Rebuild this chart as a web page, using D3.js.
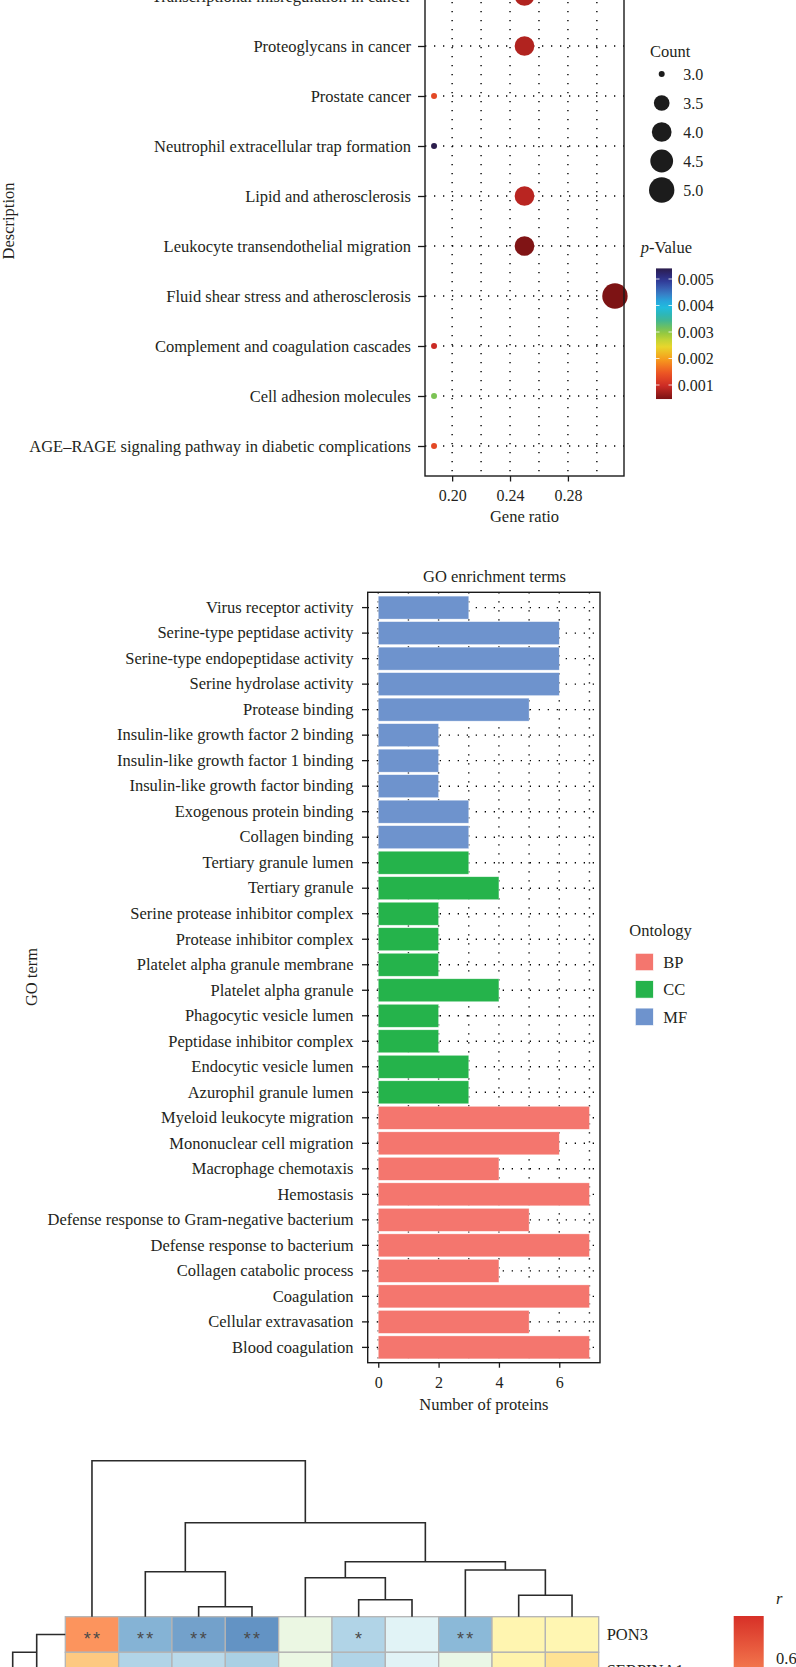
<!DOCTYPE html>
<meta charset="utf-8">
<title>KEGG dot plot, GO enrichment terms and correlation heatmap</title>
<style>
  body { margin: 0; background: #fff; }
  svg { display: block; }
  svg text { font-family: 'Liberation Serif', 'Times New Roman', serif; fill: #231f20; }
  .grid line { stroke: #000; stroke-width: 1.4; stroke-dasharray: 1.3, 7.7; }
  .frame { fill: none; stroke: #1a1a1a; stroke-width: 1.4; }
  .axis path { display: none; }
  .axis line { stroke: #1a1a1a; stroke-width: 1.3; }
  .tree { fill: none; stroke: #2b2b2b; stroke-width: 1.6; }
  .cell { stroke: #b4b4b4; stroke-width: 1.3; }
  .star { font-family: 'Liberation Sans', Arial, sans-serif; fill: #4a4a4a; }
</style>
<svg width="796" height="1667"></svg>
<script src="https://cdn.jsdelivr.net/npm/d3@7"></script>
<script>

// ---- KEGG dot plot data (top of the figure is cropped)
var keggTerms = [
  "Transcriptional misregulation in cancer",
  "Proteoglycans in cancer",
  "Prostate cancer",
  "Neutrophil extracellular trap formation",
  "Lipid and atherosclerosis",
  "Leukocyte transendothelial migration",
  "Fluid shear stress and atherosclerosis",
  "Complement and coagulation cascades",
  "Cell adhesion molecules",
  "AGE\u2013RAGE signaling pathway in diabetic complications"
];
var keggRatio = [0.25, 0.25, 0.1875, 0.1875, 0.25, 0.25, 0.3125, 0.1875, 0.1875, 0.1875];
var keggCount = [4, 4, 3, 3, 4, 4, 5, 3, 3, 3];
var keggP = [0.0008, 0.0008, 0.0013, 0.0054, 0.00085, 0.0005, 0.00048, 0.00095, 0.0031, 0.0013];
var ratioTicks = [0.20, 0.24, 0.28];
var ratioGrid = [0.20, 0.22, 0.24, 0.26, 0.28, 0.30];
var countTicks = [3.0, 3.5, 4.0, 4.5, 5.0];
var pTicks = [0.001, 0.002, 0.003, 0.004, 0.005];
var pStops = [0.00047, 0.001, 0.0015, 0.002, 0.0025, 0.003, 0.0035, 0.004, 0.0045, 0.005, 0.0054];
var pColors = ["#7b1214", "#d22d26", "#ef5a24", "#f7a01c", "#e6dd2e", "#8cc641", "#35b5a0",
               "#1dbce9", "#3d74c0", "#2e3190", "#2b1d4c"];

// ---- GO enrichment data
var goTerms = [
  "Virus receptor activity", "Serine-type peptidase activity", "Serine-type endopeptidase activity",
  "Serine hydrolase activity", "Protease binding", "Insulin-like growth factor 2 binding",
  "Insulin-like growth factor 1 binding", "Insulin-like growth factor binding",
  "Exogenous protein binding", "Collagen binding",
  "Tertiary granule lumen", "Tertiary granule", "Serine protease inhibitor complex",
  "Protease inhibitor complex", "Platelet alpha granule membrane", "Platelet alpha granule",
  "Phagocytic vesicle lumen", "Peptidase inhibitor complex", "Endocytic vesicle lumen",
  "Azurophil granule lumen",
  "Myeloid leukocyte migration", "Mononuclear cell migration", "Macrophage chemotaxis",
  "Hemostasis", "Defense response to Gram-negative bacterium", "Defense response to bacterium",
  "Collagen catabolic process", "Coagulation", "Cellular extravasation", "Blood coagulation"
];
var goCount = [3, 6, 6, 6, 5, 2, 2, 2, 3, 3,
               3, 4, 2, 2, 2, 4, 2, 2, 3, 3,
               7, 6, 4, 7, 5, 7, 4, 7, 5, 7];
var goOntology = ["MF", "MF", "MF", "MF", "MF", "MF", "MF", "MF", "MF", "MF",
                  "CC", "CC", "CC", "CC", "CC", "CC", "CC", "CC", "CC", "CC",
                  "BP", "BP", "BP", "BP", "BP", "BP", "BP", "BP", "BP", "BP"];
var ontologyKeys = ["BP", "CC", "MF"];
var ontologyColors = ["#f4766e", "#25b34b", "#6e93cd"];
var goTicks = [0, 2, 4, 6];
var goGrid = [0, 1, 2, 3, 4, 5, 6, 7];

// ---- correlation heatmap data (only the top rows are inside the crop)
var hmCols = ["C1", "C2", "C3", "C4", "C5", "C6", "C7", "C8", "C9", "C10"];
var hmRows = ["PON3", "SERPINA1"];
var hmR = [
  [0.48, -0.54, -0.60, -0.65, -0.16, -0.40, -0.24, -0.52, 0.08, 0.07],
  [0.32, -0.40, -0.37, -0.42, -0.16, -0.40, -0.24, -0.17, 0.10, 0.23]
];
var hmStars = [
  ["**", "**", "**", "**", "", "*", "", "**", "", ""],
  ["", "", "", "", "", "", "", "", "", ""]
];
var rColors = ["#4575b4", "#91bfdb", "#e0f3f8", "#ffffbf", "#fee090", "#fc8d59", "#d73027"];
var rLimit = 0.75;
var rTicks = [0.6];
// column clustering: leaves are column indexes, h is merge height
var colTree = {h: 1.56, children: [0,
  {h: 0.94, children: [
    {h: 0.45, children: [1, {h: 0.10, children: [2, 3]}]},
    {h: 0.55, children: [
      {h: 0.39, children: [4, {h: 0.17, children: [5, 6]}]},
      {h: 0.467, children: [7, {h: 0.214, children: [8, 9]}]}
    ]}
  ]}
]};
// row clustering: index 2 stands for the rest of the rows below the crop
var rowTree = {h: 0.526, children: [{h: 0.286, children: [0, 1]}, 2]};

var svg = d3.select("svg");

// ================= KEGG dot plot =================
var kLeft = 425, kRight = 624, kBottom = 476;
var kStep = 50;
var kFirst = kBottom - 0.6 * kStep - (keggTerms.length - 1) * kStep;

var rExt = d3.extent(keggRatio), rPad = (rExt[1] - rExt[0]) * 0.05;
var kx = d3.scaleLinear().domain([rExt[0] - rPad, rExt[1] + rPad]).range([kLeft, kRight]);
var ky = d3.scalePoint().domain(keggTerms).range([kFirst, kBottom - 0.6 * kStep]);
var kTop = kFirst - 0.6 * kStep;
var countNorm = d3.scaleLinear().domain(d3.extent(countTicks)).range([0, 1]);
var sizeScale = d3.scaleSqrt().domain([0, 1]).range([3, 12.7]);
var pColor = d3.scaleLinear().domain(pStops).range(pColors);

var kg = svg.append("g");
var kgrid = kg.append("g").attr("class", "grid");
kgrid.selectAll(".gv").data(ratioGrid).enter().append("line")
    .attr("x1", d => kx(d)).attr("x2", d => kx(d))
    .attr("y1", kTop).attr("y2", kBottom);
kgrid.selectAll(".gh").data(keggTerms).enter().append("line")
    .attr("x1", kLeft).attr("x2", kRight)
    .attr("y1", d => ky(d)).attr("y2", d => ky(d));

kg.selectAll(".dot").data(keggTerms).enter().append("circle")
    .attr("cx", (d, i) => kx(keggRatio[i]))
    .attr("cy", d => ky(d))
    .attr("r", (d, i) => sizeScale(countNorm(keggCount[i])))
    .attr("fill", (d, i) => pColor(keggP[i]));

kg.append("rect").attr("class", "frame")
    .attr("x", kLeft).attr("y", kTop).attr("width", kRight - kLeft).attr("height", kBottom - kTop);

var kyAxis = kg.append("g").attr("class", "axis").attr("transform", "translate(" + kLeft + ",0)")
    .call(d3.axisLeft(ky).tickSizeOuter(0).tickSizeInner(7).tickPadding(7));
kyAxis.selectAll("text").style("font-size", "16.5px");
var kxAxis = kg.append("g").attr("class", "axis").attr("transform", "translate(0," + kBottom + ")")
    .call(d3.axisBottom(kx).tickValues(ratioTicks).tickFormat(d3.format(".2f"))
      .tickSizeOuter(0).tickSizeInner(5.5).tickPadding(8));
kxAxis.selectAll("text").style("font-size", "16px");

kg.append("text").attr("x", (kLeft + kRight) / 2).attr("y", 522)
    .attr("text-anchor", "middle").style("font-size", "16.5px").text("Gene ratio");
kg.append("text").attr("transform", "translate(14,221) rotate(-90)")
    .attr("text-anchor", "middle").style("font-size", "16.5px").text("Description");

// Count legend
kg.append("text").attr("x", 650).attr("y", 56.5).style("font-size", "16.5px").text("Count");
var cl = kg.selectAll(".cl").data(countTicks).enter().append("g")
    .attr("transform", (d, i) => "translate(661.7," + (74 + i * 29) + ")");
cl.append("circle").attr("r", d => sizeScale(countNorm(d))).attr("fill", "#1c1c1c");
cl.append("text").attr("x", 21.6).attr("dy", "0.35em").style("font-size", "16px")
    .text(d => d3.format(".1f")(d));

// p-Value colour bar
var pt = kg.append("text").attr("x", 640.7).attr("y", 253).style("font-size", "16.5px");
pt.append("tspan").style("font-style", "italic").text("p");
pt.append("tspan").text("-Value");
var pY = d3.scaleLinear().domain([pTicks[0], pTicks[pTicks.length - 1]]).range([385, 279]);
var pExt = d3.extent(pStops);
var grad = svg.append("defs").append("linearGradient").attr("id", "pgrad")
    .attr("x1", 0).attr("x2", 0).attr("y1", 1).attr("y2", 0);
grad.selectAll("stop").data(d3.range(0, 1.0001, 0.05)).enter().append("stop")
    .attr("offset", d => d)
    .attr("stop-color", d => pColor(pExt[0] + d * (pExt[1] - pExt[0])));
kg.append("rect").attr("x", 656).attr("width", 16)
    .attr("y", pY(pExt[1])).attr("height", pY(pExt[0]) - pY(pExt[1]))
    .attr("fill", "url(#pgrad)");
var pl = kg.selectAll(".pl").data(pTicks).enter().append("g")
    .attr("transform", d => "translate(0," + pY(d) + ")");
pl.append("line").attr("x1", 656).attr("x2", 659.5).attr("stroke", "#fff").attr("stroke-width", 0.8);
pl.append("line").attr("x1", 668.5).attr("x2", 672).attr("stroke", "#fff").attr("stroke-width", 0.8);
pl.append("text").attr("x", 677.7).attr("dy", "0.35em").style("font-size", "16px")
    .text(d => d3.format(".3f")(d));

// ================= GO enrichment bars =================
var gLeft = 367.7, gRight = 600, gTop = 592.3, gBottom = 1362.7;
var gMax = d3.max(goCount);
var gx = d3.scaleLinear().domain([-0.05 * gMax, gMax * 1.05]).range([gLeft, gRight]);
var gy = d3.scaleBand().domain(goTerms).range([gTop, gBottom]).paddingInner(0.1).paddingOuter(0.15);
var ontColor = d3.scaleOrdinal().domain(ontologyKeys).range(ontologyColors);

var gg = svg.append("g");
var ggrid = gg.append("g").attr("class", "grid");
ggrid.selectAll(".gv").data(goGrid).enter().append("line")
    .attr("x1", d => gx(d)).attr("x2", d => gx(d)).attr("y1", gTop).attr("y2", gBottom);
ggrid.selectAll(".gh").data(goTerms).enter().append("line")
    .attr("x1", gLeft).attr("x2", gRight)
    .attr("y1", d => gy(d) + gy.bandwidth() / 2).attr("y2", d => gy(d) + gy.bandwidth() / 2);

gg.selectAll(".bar").data(goTerms).enter().append("rect")
    .attr("x", gx(0))
    .attr("y", d => gy(d))
    .attr("width", (d, i) => gx(goCount[i]) - gx(0))
    .attr("height", gy.bandwidth())
    .attr("fill", (d, i) => ontColor(goOntology[i]))
    .attr("stroke", "#fff").attr("stroke-opacity", 0.6).attr("stroke-width", 0.6);

gg.append("rect").attr("class", "frame")
    .attr("x", gLeft).attr("y", gTop).attr("width", gRight - gLeft).attr("height", gBottom - gTop);

var gyAxis = gg.append("g").attr("class", "axis").attr("transform", "translate(" + gLeft + ",0)")
    .call(d3.axisLeft(gy).tickSizeOuter(0).tickSizeInner(5.7).tickPadding(8.5));
gyAxis.selectAll("text").style("font-size", "16.5px");
var gxAxis = gg.append("g").attr("class", "axis").attr("transform", "translate(0," + gBottom + ")")
    .call(d3.axisBottom(gx).tickValues(goTicks).tickSizeOuter(0).tickSizeInner(5).tickPadding(9));
gxAxis.selectAll("text").style("font-size", "16px");

gg.append("text").attr("x", 494.5).attr("y", 582).attr("text-anchor", "middle")
    .style("font-size", "16.5px").text("GO enrichment terms");
gg.append("text").attr("x", (gLeft + gRight) / 2).attr("y", 1410).attr("text-anchor", "middle")
    .style("font-size", "16.5px").text("Number of proteins");
gg.append("text").attr("transform", "translate(37,977) rotate(-90)").attr("text-anchor", "middle")
    .style("font-size", "16.5px").text("GO term");

// Ontology legend
gg.append("text").attr("x", 629.3).attr("y", 936).style("font-size", "16.5px").text("Ontology");
var ol = gg.selectAll(".ol").data(ontologyKeys).enter().append("g")
    .attr("transform", (d, i) => "translate(635.3," + (953.3 + i * 27.4) + ")");
ol.append("rect").attr("width", 18).attr("height", 17.4).attr("fill", d => ontColor(d))
    .attr("stroke", "#fff").attr("stroke-width", 0.6);
ol.append("text").attr("x", 28).attr("y", 8.7).attr("dy", "0.35em").style("font-size", "16.5px").text(d => d);

// ================= correlation heatmap =================
var hLeft = 65.3, hRight = 598.7, hTop = 1616.7, rowH = 35.6;
var hx = d3.scaleBand().domain(d3.range(hmCols.length)).range([hLeft, hRight]);
var hy = d3.scaleBand().domain(d3.range(hmRows.length)).range([hTop, hTop + rowH * hmRows.length]);
var rColor = d3.scaleLinear().domain(d3.range(rColors.length).map(i => -rLimit + i * 2 * rLimit / (rColors.length - 1)))
    .range(rColors);

var hg = svg.append("g");
var rowsG = hg.selectAll(".row").data(hmR).enter().append("g")
    .attr("transform", (d, i) => "translate(0," + hy(i) + ")");
rowsG.selectAll(".cell").data(d => d).enter().append("rect").attr("class", "cell")
    .attr("x", (d, j) => hx(j)).attr("width", hx.bandwidth()).attr("height", hy.bandwidth())
    .attr("fill", d => rColor(d));
rowsG.each(function (d, i) {
  d3.select(this).selectAll(".star").data(hmStars[i]).enter().append("text").attr("class", "star")
      .attr("x", (s, j) => hx(j) + hx.bandwidth() / 2 + 1)
      .attr("y", hy.bandwidth() / 2 + 10.3)
      .attr("text-anchor", "middle").style("font-size", "18px").style("letter-spacing", "2.3px")
      .text(s => s);
});
hg.selectAll(".rl").data(hmRows).enter().append("text")
    .attr("x", hRight + 8).attr("y", (d, i) => hy(i) + hy.bandwidth() / 2).attr("dy", "0.35em")
    .style("font-size", "16.5px").text(d => d);

// dendrograms (elbow style)
var colH = d3.scaleLinear().domain([0, colTree.h]).range([hTop, 1460.7]);
var rowHx = d3.scaleLinear().domain([0, rowTree.h]).range([hLeft, 12.7]);
var segs = [];
function colLayout(node) {
  if (typeof node === "number") return {pos: hx(node) + hx.bandwidth() / 2, h: 0};
  var a = colLayout(node.children[0]), b = colLayout(node.children[1]);
  var y = colH(node.h);
  segs.push([[a.pos, colH(a.h)], [a.pos, y], [b.pos, y], [b.pos, colH(b.h)]]);
  return {pos: (a.pos + b.pos) / 2, h: node.h};
}
function rowLayout(node) {
  if (typeof node === "number") {
    var y = node < hmRows.length ? hy(node) + hy.bandwidth() / 2 : 1667 + 60;
    return {pos: y, h: 0};
  }
  var a = rowLayout(node.children[0]), b = rowLayout(node.children[1]);
  var x = rowHx(node.h);
  segs.push([[rowHx(a.h), a.pos], [x, a.pos], [x, b.pos], [rowHx(b.h), b.pos]]);
  return {pos: (a.pos + b.pos) / 2, h: node.h};
}
colLayout(colTree);
rowLayout(rowTree);
hg.selectAll(".tree").data(segs).enter().append("path").attr("class", "tree")
    .attr("d", d3.line());

// r colour bar
var rY = d3.scaleLinear().domain([rLimit, -rLimit]).range([1616, 1616 + 280 * 2 * rLimit]);
var rgrad = svg.select("defs").append("linearGradient").attr("id", "rgrad")
    .attr("x1", 0).attr("x2", 0).attr("y1", 1).attr("y2", 0);
rgrad.selectAll("stop").data(rColors).enter().append("stop")
    .attr("offset", (d, i) => i / (rColors.length - 1)).attr("stop-color", d => d);
hg.append("rect").attr("x", 733.7).attr("width", 30)
    .attr("y", rY(rLimit)).attr("height", rY(-rLimit) - rY(rLimit)).attr("fill", "url(#rgrad)");
hg.append("text").attr("x", 776).attr("y", 1604).style("font-size", "16.5px")
    .style("font-style", "italic").text("r");
hg.selectAll(".rt").data(rTicks).enter().append("text")
    .attr("x", 776).attr("y", d => rY(d)).attr("dy", "0.35em").style("font-size", "16.5px")
    .text(d => d3.format(".1f")(d));
</script>
